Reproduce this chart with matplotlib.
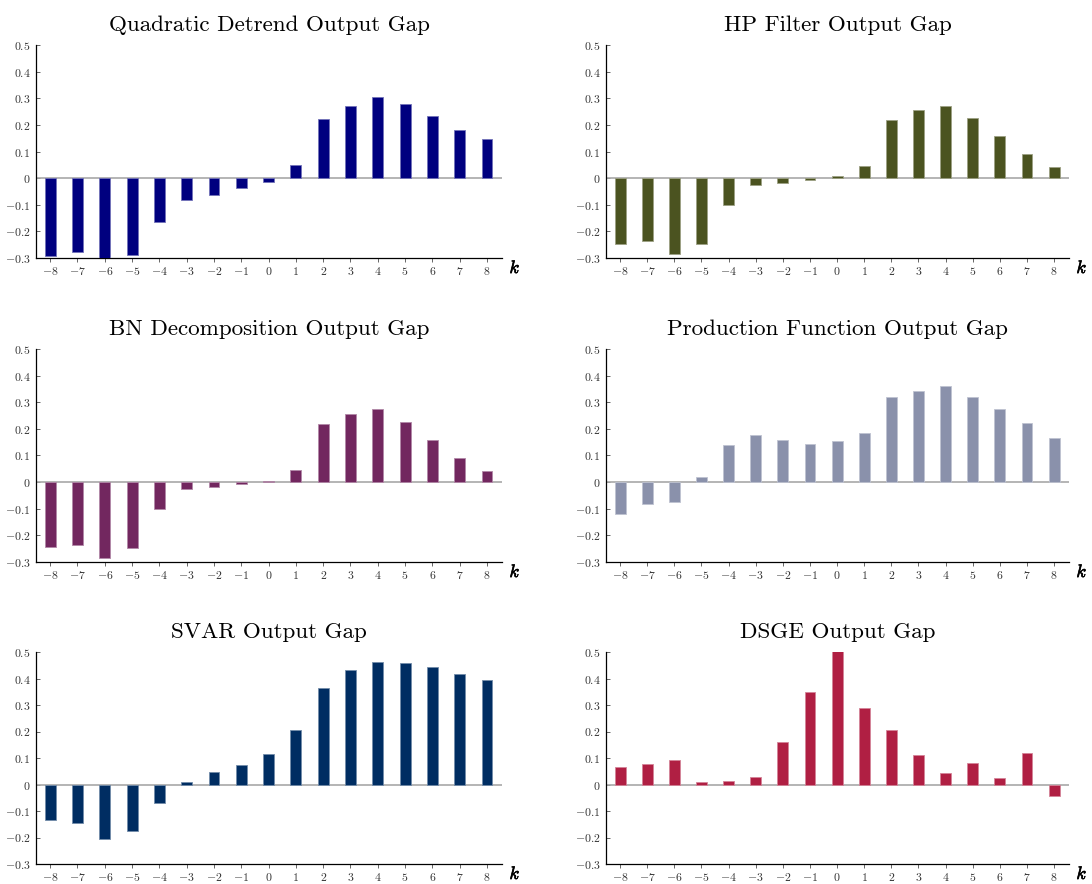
import matplotlib
matplotlib.use("Agg")
import matplotlib.pyplot as plt
import matplotlib.colors as mcolors
import matplotlib.patheffects as pe
import numpy as np

#-------------------------------
#         data: output gap responses at leads/lags k
#-------------------------------
k = np.arange(-8, 9)

titles = ["Quadratic Detrend Output Gap", "HP Filter Output Gap",
          "BN Decomposition Output Gap", "Production Function Output Gap",
          "SVAR Output Gap", "DSGE Output Gap"]

quad = [-0.294, -0.279, -0.30, -0.29, -0.165, -0.083, -0.064, -0.037, -0.013,
        0.049, 0.221, 0.271, 0.305, 0.28, 0.232, 0.182, 0.147]
hp = [-0.246, -0.238, -0.284, -0.247, -0.102, -0.025, -0.017, -0.006, 0.007,
      0.046, 0.219, 0.256, 0.272, 0.225, 0.157, 0.09, 0.041]
bn = [-0.245, -0.238, -0.284, -0.247, -0.101, -0.025, -0.018, -0.006, 0.006,
      0.046, 0.219, 0.257, 0.273, 0.226, 0.158, 0.09, 0.04]
prodf = [-0.119, -0.084, -0.075, 0.018, 0.141, 0.178, 0.159, 0.144, 0.153,
         0.185, 0.319, 0.344, 0.361, 0.32, 0.273, 0.223, 0.166]
svar = [-0.134, -0.146, -0.206, -0.176, -0.068, 0.008, 0.048, 0.073, 0.114,
        0.207, 0.363, 0.432, 0.463, 0.46, 0.443, 0.418, 0.396]
dsge = [0.067, 0.079, 0.094, 0.011, 0.013, 0.03, 0.16, 0.349, 0.505,
        0.29, 0.206, 0.113, 0.045, 0.082, 0.026, 0.119, -0.044]

series = [quad, hp, bn, prodf, svar, dsge]
colors = ["#00007f", "#4b5320", "#72275f", "#8a91ab", "#002d62", "#b01f43"]

yticks = [-0.3, -0.2, -0.1, 0, 0.1, 0.2, 0.3, 0.4, 0.5]

#-------------------------------
#         style
#-------------------------------
plt.rcParams['font.family'] = 'serif'
plt.rcParams['font.serif'] = ['cmr10', 'DejaVu Serif']
plt.rcParams['mathtext.fontset'] = 'cm'
plt.rcParams['axes.unicode_minus'] = True
plt.rcParams['axes.formatter.use_mathtext'] = True

fig = plt.figure(figsize=(10.92, 8.84), dpi=100)
W, H = 1092.0, 884.0

# axes boxes in pixels: left, top, right, bottom
lefts = [36, 606]
rights = [502, 1069]
rows = [(45, 258), (349, 562), (652, 864)]

def tick_str(v):
    if v == 0:
        return "$0$"
    return "$%.1f$" % v

for i, (vals, title, col) in enumerate(zip(series, titles, colors)):
    r, c = divmod(i, 2)
    top, bot = rows[r]
    ax = fig.add_axes([lefts[c] / W, 1 - bot / H,
                       (rights[c] - lefts[c]) / W, (bot - top) / H])
    edge = mcolors.to_rgb(col)
    edge = tuple(0.55 * e + 0.45 for e in edge)
    ax.bar(k, vals, width=0.4, color=col, edgecolor=edge, linewidth=0.6, zorder=3)
    ax.axhline(0, color="#a8a8a8", lw=1.2, zorder=2)
    ax.set_xlim(-8.52, 8.55)
    ax.set_ylim(-0.3, 0.5)
    ax.set_xticks(k)
    ax.set_xticklabels(["$%d$" % v for v in k])
    ax.set_yticks(yticks)
    ax.set_yticklabels([tick_str(v) for v in yticks])
    for s in ["top", "right"]:
        ax.spines[s].set_visible(False)
    for s in ["left", "bottom"]:
        ax.spines[s].set_linewidth(0.9)
    ax.tick_params(axis="both", length=3, width=0.7,
                   labelsize=8.5, labelcolor="#333333", color="#666666", pad=2)
    ax.tick_params(axis="y", direction="in", pad=4)
    ax.tick_params(axis="x", direction="out")
    ax.set_title(title, fontsize=16.6, pad=10)
    ax.annotate("$k$", xy=(1.028, -0.045), xycoords="axes fraction",
                fontsize=13, ha="center", va="center",
                path_effects=[pe.withStroke(linewidth=0.45, foreground="black")])

plt.savefig("out.png", dpi=100)
